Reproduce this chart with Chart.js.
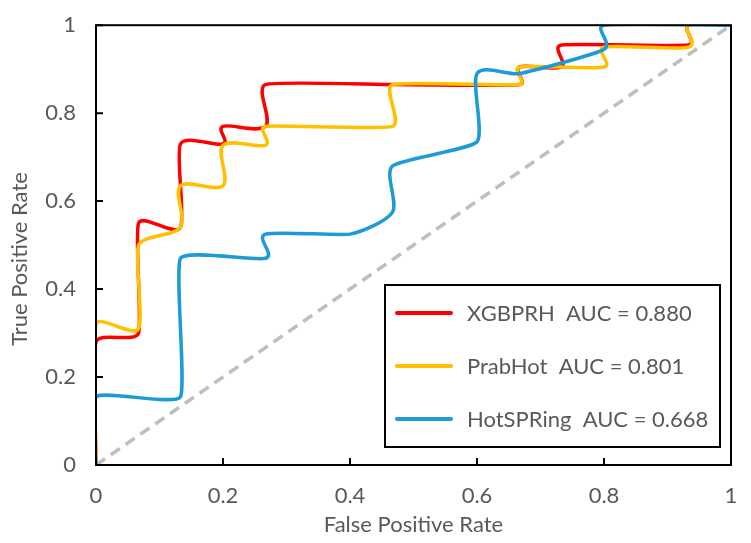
<!DOCTYPE html>
<html>
<head>
<meta charset="utf-8">
<script src="https://cdn.jsdelivr.net/npm/chart.js@4.4.1/dist/chart.umd.min.js"></script>
<style>
  html, body { margin: 0; padding: 0; background: #fff; }
  #wrap { width: 751px; height: 543px; }
</style>
</head>
<body>
<div id="wrap"><canvas id="roc"></canvas></div>
<script>
// ROC curve points
const seriesNames = ['XGBPRH  AUC = 0.880', 'PrabHot  AUC = 0.801', 'HotSPRing  AUC = 0.668'];
const seriesColors = ['#ff0000', '#ffc000', '#1e9bd7'];

const xgbFpr = [0, 0, 0.067, 0.067, 0.133, 0.133, 0.2, 0.2, 0.267, 0.267, 0.467, 0.667, 0.667, 0.733, 0.733, 0.933, 0.933, 1];
const xgbTpr = [0, 0.28, 0.30, 0.55, 0.54, 0.73, 0.73, 0.77, 0.77, 0.865, 0.865, 0.865, 0.905, 0.905, 0.955, 0.955, 1, 1];

const prabFpr = [0, 0, 0.067, 0.067, 0.133, 0.133, 0.2, 0.2, 0.267, 0.267, 0.467, 0.467, 0.667, 0.667, 0.8, 0.8, 0.933, 0.933, 1];
const prabTpr = [0, 0.32, 0.31, 0.50, 0.54, 0.635, 0.635, 0.727, 0.727, 0.77, 0.77, 0.865, 0.865, 0.905, 0.905, 0.95, 0.95, 1, 1];

const hotFpr = [0, 0, 0.133, 0.133, 0.267, 0.267, 0.4, 0.467, 0.467, 0.6, 0.6, 0.667, 0.8, 0.8, 1];
const hotTpr = [0, 0.155, 0.155, 0.47, 0.47, 0.525, 0.525, 0.575, 0.68, 0.735, 0.89, 0.89, 0.945, 1, 1];

const chanceFpr = [0, 1];
const chanceTpr = [0, 1];

const xTickLabels = ['0', '0.2', '0.4', '0.6', '0.8', '1'];
const yTickLabels = ['0', '0.2', '0.4', '0.6', '0.8', '1'];

const FONT = 'Lato, "Open Sans", sans-serif';
const TEXT = '#595959';
const HANDLE_MAX = 11;   // px, longest bezier handle at a corner

function pts(xs, ys) {
    return xs.map((x, i) => ({ x: x, y: ys[i] }));
}

// spreadsheet-like smoothing: handles along (next - prev), 1/6 of that chord,
// never more than half the segment and never more than HANDLE_MAX
const smoothCorners = {
    id: 'smoothCorners',
    beforeDatasetDraw(chart, args) {
        const meta = args.meta;
        const line = meta.dataset;
        if (!line || !line.options.tension) return;
        line.updateControlPoints(chart.chartArea, meta.indexAxis);
        const p = meta.data;
        const n = p.length;
        for (let i = 0; i < n; i++) {
            const prev = p[Math.max(i - 1, 0)];
            const next = p[Math.min(i + 1, n - 1)];
            const tx = next.x - prev.x, ty = next.y - prev.y;
            const tl = Math.hypot(tx, ty) || 1;
            const dIn = Math.hypot(p[i].x - prev.x, p[i].y - prev.y);
            const dOut = Math.hypot(next.x - p[i].x, next.y - p[i].y);
            const hIn = Math.min(tl / 6, dIn / 2, HANDLE_MAX);
            const hOut = Math.min(tl / 6, dOut / 2, HANDLE_MAX);
            p[i].cp1x = p[i].x - tx / tl * hIn;
            p[i].cp1y = p[i].y - ty / tl * hIn;
            p[i].cp2x = p[i].x + tx / tl * hOut;
            p[i].cp2y = p[i].y + ty / tl * hOut;
        }
    }
};

// frame round the plot, inward ticks, y title and the boxed legend
const frameAndLegend = {
    id: 'frameAndLegend',
    afterDatasetsDraw(chart) {
        const { ctx, chartArea: a, scales } = chart;
        ctx.save();
        ctx.strokeStyle = '#000';
        ctx.lineWidth = 2;
        ctx.strokeRect(a.left, a.top, a.right - a.left, a.bottom - a.top);

        ctx.beginPath();
        scales.x.ticks.forEach(t => {
            const px = scales.x.getPixelForValue(t.value);
            ctx.moveTo(px, a.bottom);
            ctx.lineTo(px, a.bottom - 7);
        });
        scales.y.ticks.forEach(t => {
            const py = scales.y.getPixelForValue(t.value);
            ctx.moveTo(a.left, py);
            ctx.lineTo(a.left + 7, py);
        });
        ctx.stroke();

        // y axis title, sits a little below the middle as in the original
        ctx.save();
        ctx.translate(20, 259);
        ctx.rotate(-Math.PI / 2);
        ctx.font = '22px ' + FONT;
        ctx.fillStyle = TEXT;
        ctx.textAlign = 'center';
        ctx.textBaseline = 'middle';
        ctx.fillText('True Positive Rate', 0, 0);
        ctx.restore();

        // legend box
        const bx = 385, by = 285, bw = 335, bh = 162;
        ctx.fillStyle = '#fff';
        ctx.fillRect(bx, by, bw, bh);
        ctx.lineWidth = 2;
        ctx.strokeRect(bx, by, bw, bh);
        const rows = [313, 366, 419];
        ctx.font = '22px ' + FONT;
        ctx.textBaseline = 'middle';
        ctx.textAlign = 'left';
        seriesNames.forEach((name, i) => {
            ctx.strokeStyle = seriesColors[i];
            ctx.lineWidth = 4;
            ctx.lineCap = 'round';
            ctx.beginPath();
            ctx.moveTo(397, rows[i]);
            ctx.lineTo(451, rows[i]);
            ctx.stroke();
            ctx.fillStyle = TEXT;
            ctx.fillText(name, 467, rows[i] + 1);
        });
        ctx.restore();
    }
};

const curve = (label, data, color, order) => ({
    label: label,
    data: data,
    borderColor: color,
    backgroundColor: color,
    borderWidth: 3.5,
    showLine: true,
    pointRadius: 0,
    tension: 0.4,
    fill: false,
    order: order
});

new Chart(document.getElementById('roc'), {
    type: 'scatter',
    data: {
        datasets: [
            curve(seriesNames[0], pts(xgbFpr, xgbTpr), seriesColors[0], 2),
            curve(seriesNames[1], pts(prabFpr, prabTpr), seriesColors[1], 1),
            curve(seriesNames[2], pts(hotFpr, hotTpr), seriesColors[2], 0),
            {
                label: 'chance',
                data: pts(chanceFpr, chanceTpr),
                borderColor: '#bfbfbf',
                borderWidth: 3.5,
                borderDash: [11, 7],
                showLine: true,
                pointRadius: 0,
                order: 3
            }
        ]
    },
    options: {
        responsive: true,
        maintainAspectRatio: false,
        animation: false,
        layout: { padding: { top: 20, right: 20, left: 0, bottom: 0 } },
        plugins: {
            legend: { display: false },
            tooltip: { enabled: false }
        },
        scales: {
            x: {
                type: 'linear',
                min: 0,
                max: 1,
                grid: { display: false },
                border: { display: false },
                ticks: {
                    stepSize: 0.2,
                    padding: 10,
                    color: TEXT,
                    font: { family: FONT, size: 22 },
                    callback: (v, i) => xTickLabels[i]
                },
                title: {
                    display: true,
                    text: 'False Positive Rate',
                    color: TEXT,
                    font: { family: FONT, size: 22 },
                    padding: { top: 0, bottom: 5 }
                },
                afterFit(scale) { scale.height = 78; }
            },
            y: {
                type: 'linear',
                min: 0,
                max: 1,
                grid: { display: false },
                border: { display: false },
                ticks: {
                    stepSize: 0.2,
                    padding: 12,
                    color: TEXT,
                    font: { family: FONT, size: 22 },
                    callback: (v, i) => yTickLabels[i]
                },
                afterFit(scale) { scale.width = 96; }
            }
        }
    },
    plugins: [smoothCorners, frameAndLegend]
});
</script>
</body>
</html>
